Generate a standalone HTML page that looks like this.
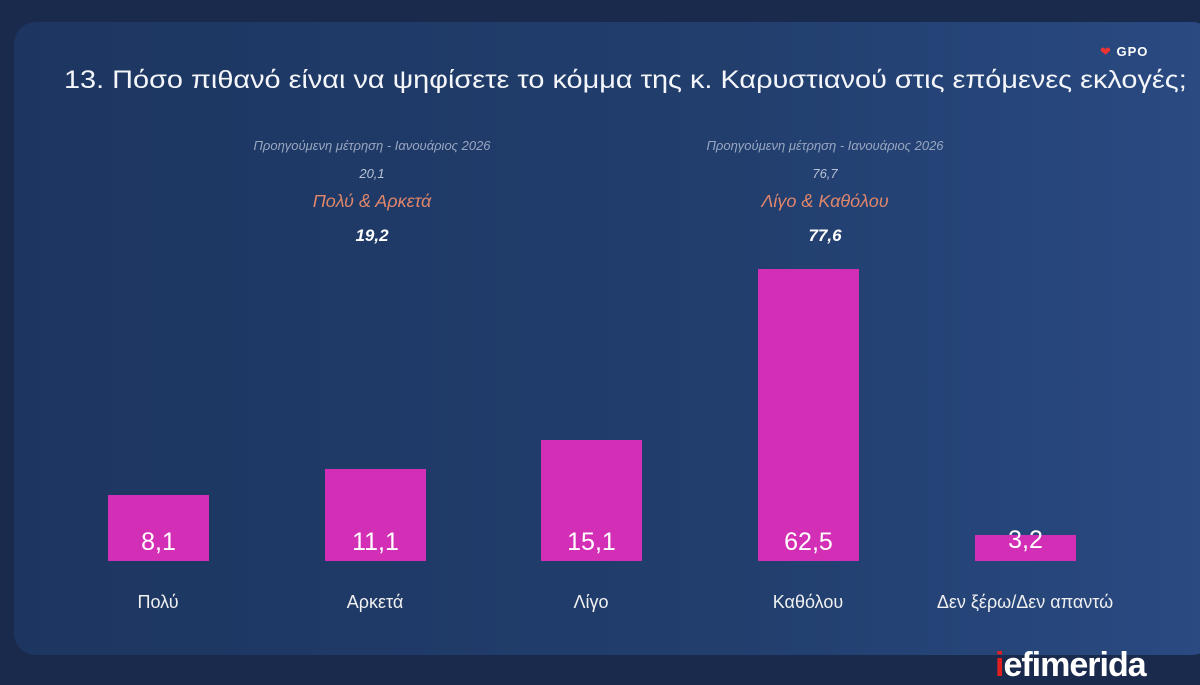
<!DOCTYPE html>
<html><head><meta charset="utf-8"><style>
body{margin:0;width:1200px;height:675px;overflow:hidden;background:#1a2a4c;font-family:"Liberation Sans","DejaVu Sans",sans-serif;position:relative}
.panel{position:absolute;left:14px;top:22px;width:1200px;height:633px;border-radius:22px;background:linear-gradient(90deg,#1d3661 0%,#213e6d 60%,#2a4a82 100%)}
.t{position:absolute;color:#fff;white-space:nowrap}
.bar{position:absolute;background:#d32eb6;width:101px}
.v{position:absolute;color:#fff;font-size:25px;width:101px;text-align:center}
.c{position:absolute;color:#f0f0f0;font-size:18px;width:220px;text-align:center}
.s{position:absolute;width:400px;text-align:center;font-style:italic}
</style></head><body>
<div class="panel"></div>
<div class="t" style="left:64px;top:66px;font-size:25px;color:#f4f6fa;transform:scaleX(1.155);transform-origin:0 0">13. Πόσο πιθανό είναι να ψηφίσετε το κόμμα της κ. Καρυστιανού στις επόμενες εκλογές;</div>
<div class="t" style="left:1100px;top:44px;font-size:13px;font-weight:bold;letter-spacing:1px"><span style="color:#e33">❤</span> GPO</div>
<div class="s" style="left:172px;top:138px;font-size:13px;color:#98a6c0">Προηγούμενη μέτρηση - Ιανουάριος 2026</div>
<div class="s" style="left:172px;top:166px;font-size:13px;color:#b8c2d4">20,1</div>
<div class="s" style="left:172px;top:191px;font-size:18px;color:#e0866a">Πολύ &amp; Αρκετά</div>
<div class="s" style="left:172px;top:226px;font-size:17px;color:#fff;font-weight:bold">19,2</div>
<div class="s" style="left:625px;top:138px;font-size:13px;color:#98a6c0">Προηγούμενη μέτρηση - Ιανουάριος 2026</div>
<div class="s" style="left:625px;top:166px;font-size:13px;color:#b8c2d4">76,7</div>
<div class="s" style="left:625px;top:191px;font-size:18px;color:#e0866a">Λίγο &amp; Καθόλου</div>
<div class="s" style="left:625px;top:226px;font-size:17px;color:#fff;font-weight:bold">77,6</div>

<div class="bar" style="left:108px;top:495px;height:66px"></div>
<div class="bar" style="left:325px;top:469px;height:92px"></div>
<div class="bar" style="left:541px;top:440px;height:121px"></div>
<div class="bar" style="left:758px;top:269px;height:292px"></div>
<div class="bar" style="left:975px;top:535px;height:26px"></div>
<div class="v" style="left:108px;top:528px">8,1</div>
<div class="v" style="left:325px;top:528px">11,1</div>
<div class="v" style="left:541px;top:528px">15,1</div>
<div class="v" style="left:758px;top:528px">62,5</div>
<div class="v" style="left:975px;top:526px">3,2</div>
<div class="c" style="left:48px;top:592px">Πολύ</div>
<div class="c" style="left:265px;top:592px">Αρκετά</div>
<div class="c" style="left:481px;top:592px">Λίγο</div>
<div class="c" style="left:698px;top:592px">Καθόλου</div>
<div class="c" style="left:915px;top:592px">Δεν ξέρω/Δεν απαντώ</div>
<div class="t" style="left:995px;top:646px;font-size:34px;font-weight:bold;letter-spacing:-1px"><span style="color:#e02020">i</span>efimerida</div>
</body></html>
